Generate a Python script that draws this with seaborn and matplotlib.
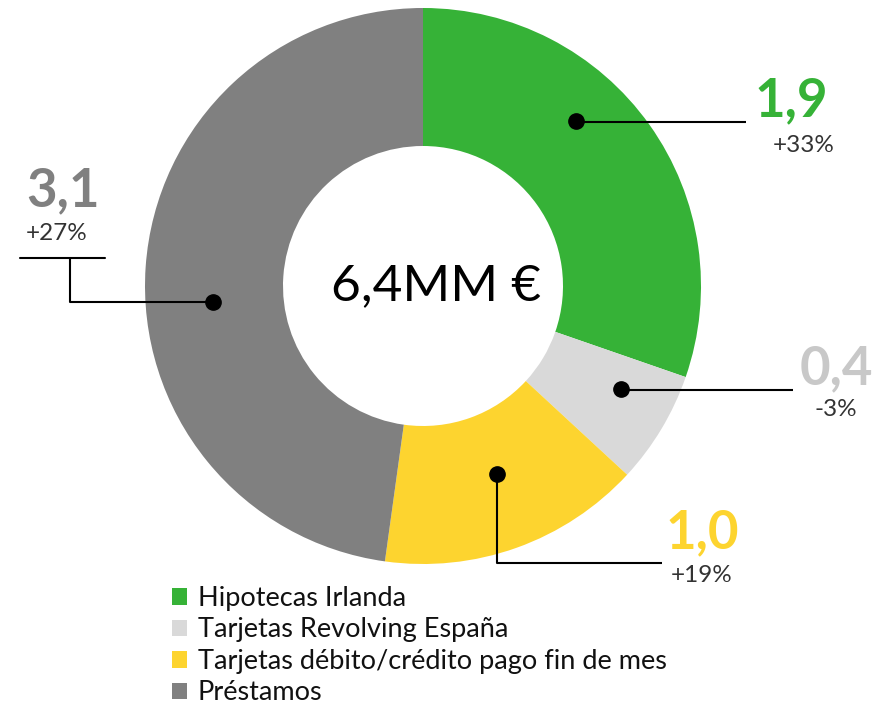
import numpy as np
import pandas as pd
import matplotlib
matplotlib.use("Agg")
import matplotlib.pyplot as plt
import seaborn as sns
from matplotlib.patches import Patch

sns.set_theme(style="white")
plt.rcParams["font.family"] = ["Lato", "DejaVu Sans"]

# data (slice sizes read from the ring, labels as printed)
categories = ["Hipotecas Irlanda", "Tarjetas Revolving España",
              "Tarjetas débito/crédito pago fin de mes", "Préstamos"]
values = [1.94, 0.42, 0.98, 3.06]
value_labels = ["1,9", "0,4", "1,0", "3,1"]
changes = ["+33%", "-3%", "+19%", "+27%"]
total_label = "6,4MM €"
colors = ["#36B237", "#D9D9D9", "#FDD42F", "#808080"]
label_colors = ["#36B237", "#C8C8C8", "#FDD42F", "#808080"]

W, H = 884, 709
fig = plt.figure(figsize=(W / 100, H / 100), dpi=100)
ax = fig.add_axes([0, 0, 1, 1])

def y(py):  # pixel row -> data y
    return H - py

cx, cy, r_out, r_in = 423, y(286), 278, 140
ax.pie(values, colors=colors, startangle=90, counterclock=False,
       center=(cx, cy), radius=r_out, frame=True,
       wedgeprops=dict(width=r_out - r_in, linewidth=0))
ax.set_xlim(0, W); ax.set_ylim(0, H); ax.set_aspect("equal"); ax.axis("off")

ax.text(436, cy, total_label, ha="center", va="center", fontsize=37, color="black")

# leader lines: (dot, path points, value-label pos, change-label pos, alignment)
leaders = [
    ((576, 121), [(576, 122), (746, 122)], (791, 101), (804, 145), "center"),
    ((621, 389), [(621, 390), (793, 390)], (836, 369), (836, 410), "center"),
    ((497, 474), [(497, 474), (497, 563), (662, 563)], (702, 533), (702, 576), "center"),
    ((213, 302), [(213, 302), (70, 302), (70, 258)], (26, 191), (26, 233), "left"),
]
for i, (dot, path, vpos, cpos, ha) in enumerate(leaders):
    xs = [p[0] for p in path]; ys = [y(p[1]) for p in path]
    ax.plot(xs, ys, color="black", lw=1.5, solid_capstyle="butt")
    ax.plot(dot[0], y(dot[1]), "o", color="black", markersize=11)
    ax.text(vpos[0], y(vpos[1]), value_labels[i], ha=ha, va="center",
            fontsize=38, fontweight="bold", color=label_colors[i])
    ax.text(cpos[0], y(cpos[1]), changes[i], ha=ha, va="center",
            fontsize=17.5, color="#333333")
# top rule over the 3,1 label
ax.plot([20, 105], [y(258), y(258)], color="black", lw=1.5)

handles = [Patch(facecolor=c, edgecolor="none") for c in colors]
ax.legend(handles, categories, loc="upper left", bbox_to_anchor=(172 / W, 1 - 586 / H),
          frameon=False, fontsize=19.5, handlelength=0.55, handleheight=0.55,
          handletextpad=0.4, labelspacing=0.24, borderpad=0, borderaxespad=0,
          labelcolor="#111111")

fig.savefig("out.png", dpi=100)
